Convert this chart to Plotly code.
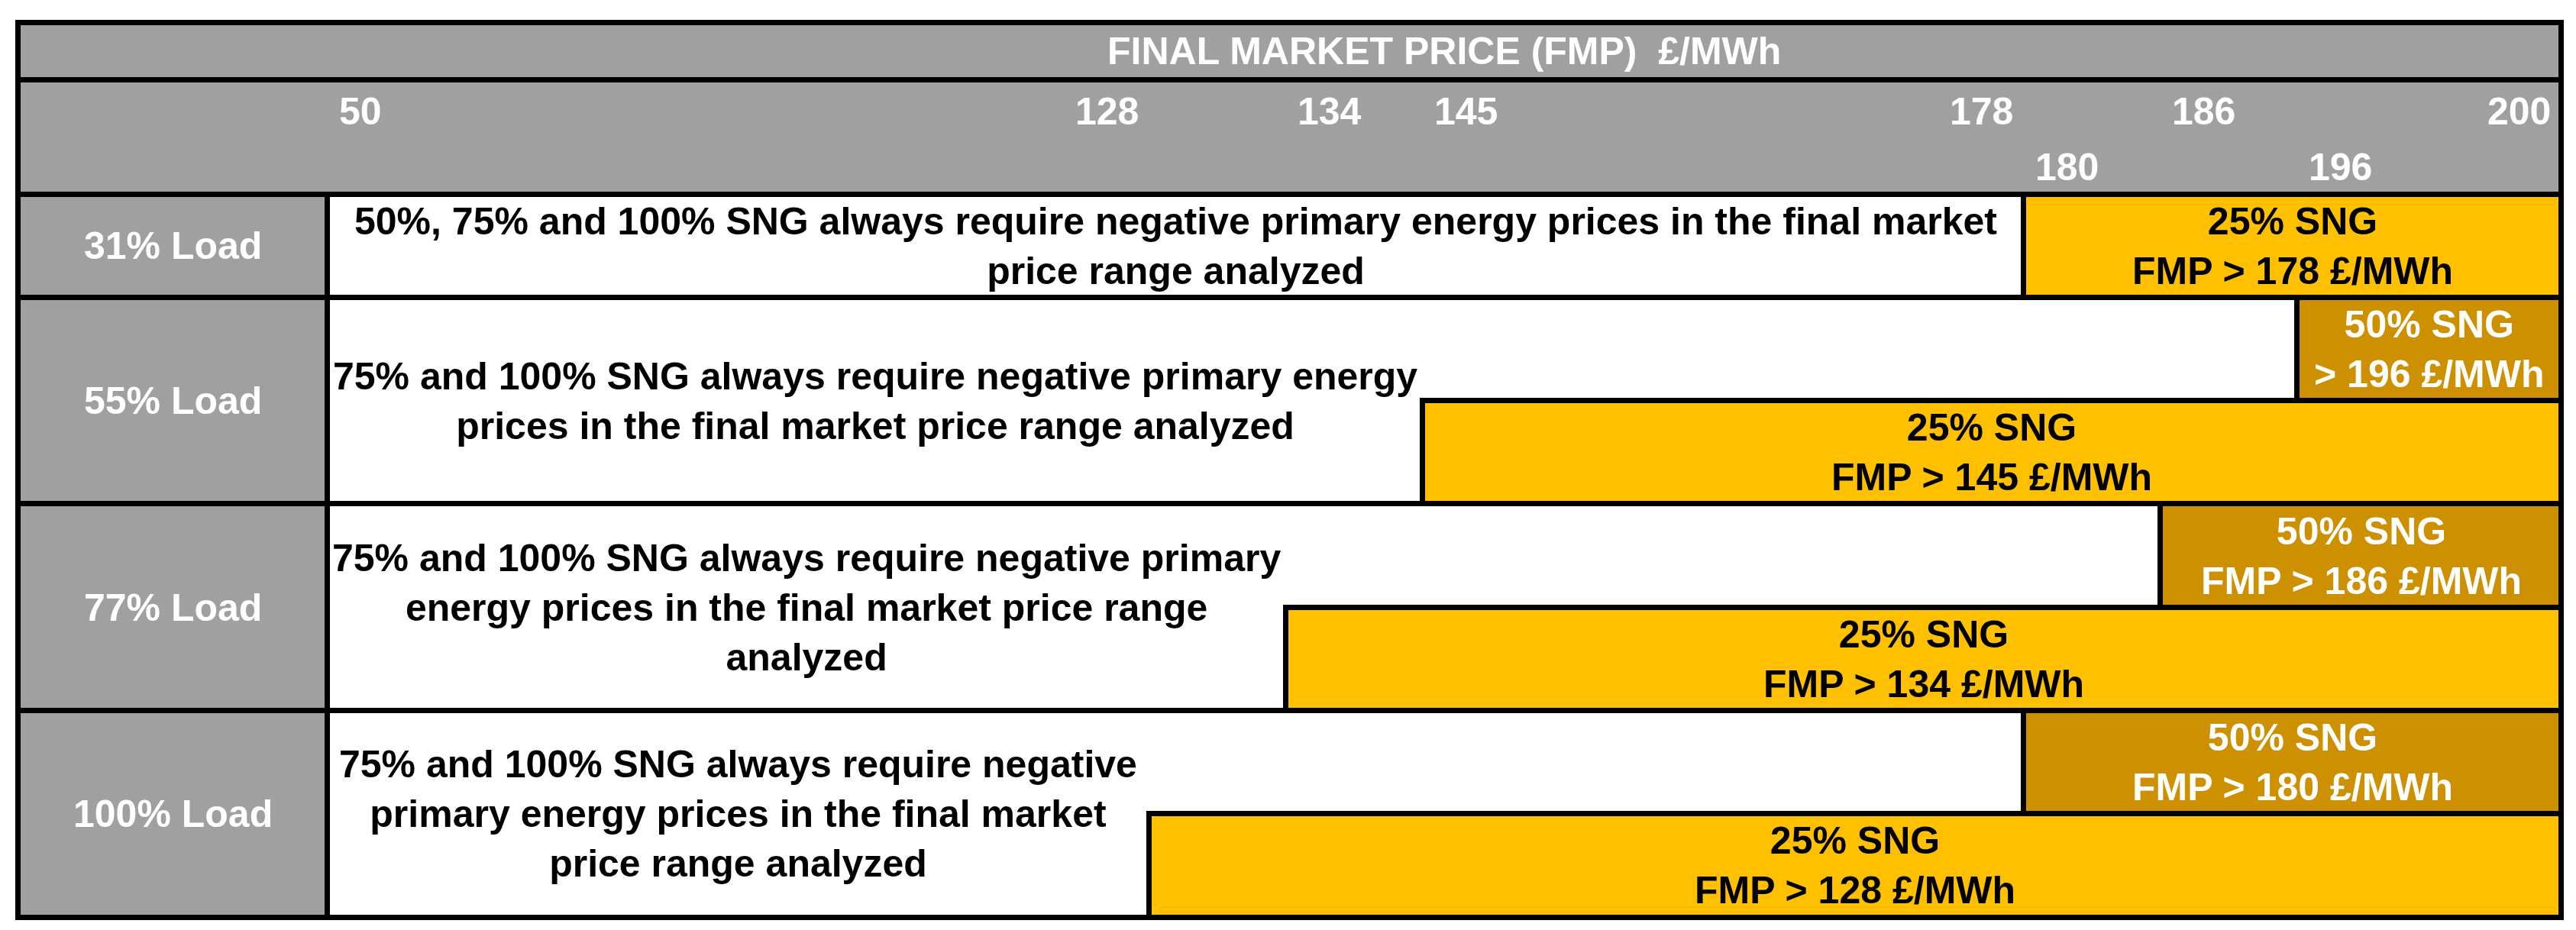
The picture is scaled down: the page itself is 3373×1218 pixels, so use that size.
import numpy as np
import plotly.graph_objects as go

# ---------------- data ----------------
loads = ["31% Load", "55% Load", "77% Load", "100% Load"]
price_ticks = [50, 128, 134, 145, 178, 180, 186, 196, 200]
price_min, price_max = 50, 200
sng25_threshold = [178, 145, 134, 128]
sng50_threshold = [None, 196, 186, 180]
sng25_labels = ["25% SNG<br>FMP > 178 £/MWh", "25% SNG<br>FMP > 145 £/MWh",
                "25% SNG<br>FMP > 134 £/MWh", "25% SNG<br>FMP > 128 £/MWh"]
sng50_labels = [None, "50% SNG<br>> 196 £/MWh", "50% SNG<br>FMP > 186 £/MWh",
                "50% SNG<br>FMP > 180 £/MWh"]
notes = [
    "50%, 75% and 100% SNG always require negative primary energy prices in the final market<br>price range analyzed",
    "75% and 100% SNG always require negative primary energy<br>prices in the final market price range analyzed",
    "75% and 100% SNG always require negative primary<br>energy prices in the final market price range<br>analyzed",
    "75% and 100% SNG always require negative<br>primary energy prices in the final market<br>price range analyzed",
]
title_text = "FINAL MARKET PRICE (FMP)  £/MWh"

# ---------------- layout (table geometry, styles) ----------------
W, H = 3373, 1218
# spreadsheet-like column positions (column units) of the price breakpoints
col_prices = [50, 128, 134, 145, 178, 180, 186, 196, 200]
col_pos = [0, 6.01, 7.01, 8.01, 12.41, 12.41, 13.41, 14.41, 16.34]
label_col_width = 2.26
tick_anchor = ["left", "right", "left", "left", "right", "left", "left", "left", "right"]
tick_line = [0, 0, 0, 0, 0, 1, 0, 1, 0]
title_h, tick_h = 0.553, 1.107
row_h = [1, 2, 2, 2]
table_px = dict(left=16, right=3346, top=22, bottom=1193.5)

GRAY, YELLOW, GOLD = "#A0A0A0", "#FFC000", "#CC9000"
LW = 7
FONT = "Liberation Sans, Arial, sans-serif"
FS = 50


def px(p):
    return float(np.interp(p, col_prices, col_pos))


x_left = -label_col_width
x_right = px(price_max)
y_top = -(title_h + tick_h)
row_top = np.concatenate([[0], np.cumsum(row_h)[:-1]])
y_bottom = float(sum(row_h))

ux = (table_px["right"] - table_px["left"]) / (x_right - x_left)
uy = (table_px["bottom"] - table_px["top"]) / (y_bottom - y_top)
xr = [x_left - table_px["left"] / ux, x_right + (W - table_px["right"]) / ux]
yr = [y_bottom + (H - table_px["bottom"]) / uy, y_top - table_px["top"] / uy]

fig = go.Figure()
layers = {}


def cell(layer, x0, x1, y0, y1, color):
    d = layers.setdefault(layer, dict(x=[], base=[], y=[], w=[], c=[]))
    d["base"].append(x0)
    d["x"].append(x1 - x0)
    d["y"].append((y0 + y1) / 2)
    d["w"].append(y1 - y0)
    d["c"].append(color)


# header
cell(0, x_left, x_right, y_top, y_top + title_h, GRAY)
cell(0, x_left, x_right, -tick_h, 0, GRAY)
for i, ld in enumerate(loads):
    t, h = row_top[i], row_h[i]
    cell(0, x_left, px(price_min), t, t + h, GRAY)
    cell(1, px(price_min), px(price_max), t, t + h, "white")
    if sng50_threshold[i] is None:
        cell(2, px(sng25_threshold[i]), px(price_max), t, t + h, YELLOW)
    else:
        cell(2, px(sng50_threshold[i]), px(price_max), t, t + h / 2, GOLD)
        cell(2, px(sng25_threshold[i]), px(price_max), t + h / 2, t + h, YELLOW)

for k in sorted(layers):
    d = layers[k]
    fig.add_trace(go.Bar(
        orientation="h", x=d["x"], base=d["base"], y=d["y"], width=d["w"],
        marker=dict(color=d["c"], line=dict(color="black", width=LW)),
        hoverinfo="skip", showlegend=False))

ann = []


def text(x, y, s, color, **kw):
    ann.append(dict(x=x, y=y, xref="x", yref="y", text=s, showarrow=False,
                    font=dict(family=FONT, size=FS, color=color), **kw))


text((px(price_min) + x_right) / 2, y_top + title_h / 2, "<b>%s</b>" % title_text, "white")
line_y = [-0.80, -0.262]
for p, a, ln in zip(price_ticks, tick_anchor, tick_line):
    text(px(p), line_y[ln], "<b>%d</b>" % p, "white", xanchor=a,
         xshift=13 if a == "left" else -12)

for i, ld in enumerate(loads):
    t, h = row_top[i], row_h[i]
    text(x_left / 2, t + h / 2, "<b>%s</b>" % ld, "white")
    text((px(price_min) + px(sng25_threshold[i])) / 2, t + h / 2, "<b>%s</b>" % notes[i], "black")
    if sng50_threshold[i] is None:
        text((px(sng25_threshold[i]) + x_right) / 2, t + h / 2, "<b>%s</b>" % sng25_labels[i], "black")
    else:
        text((px(sng50_threshold[i]) + x_right) / 2, t + h / 4, "<b>%s</b>" % sng50_labels[i], "white")
        text((px(sng25_threshold[i]) + x_right) / 2, t + 3 * h / 4, "<b>%s</b>" % sng25_labels[i], "black")

fig.update_layout(
    width=W, height=H, autosize=False,
    margin=dict(l=0, r=0, t=0, b=0, pad=0),
    paper_bgcolor="white", plot_bgcolor="white",
    barmode="overlay", bargap=0,
    xaxis=dict(range=xr, visible=False, fixedrange=True),
    yaxis=dict(range=yr, visible=False, fixedrange=True),
    annotations=ann,
)
fig.write_html("out.html")
